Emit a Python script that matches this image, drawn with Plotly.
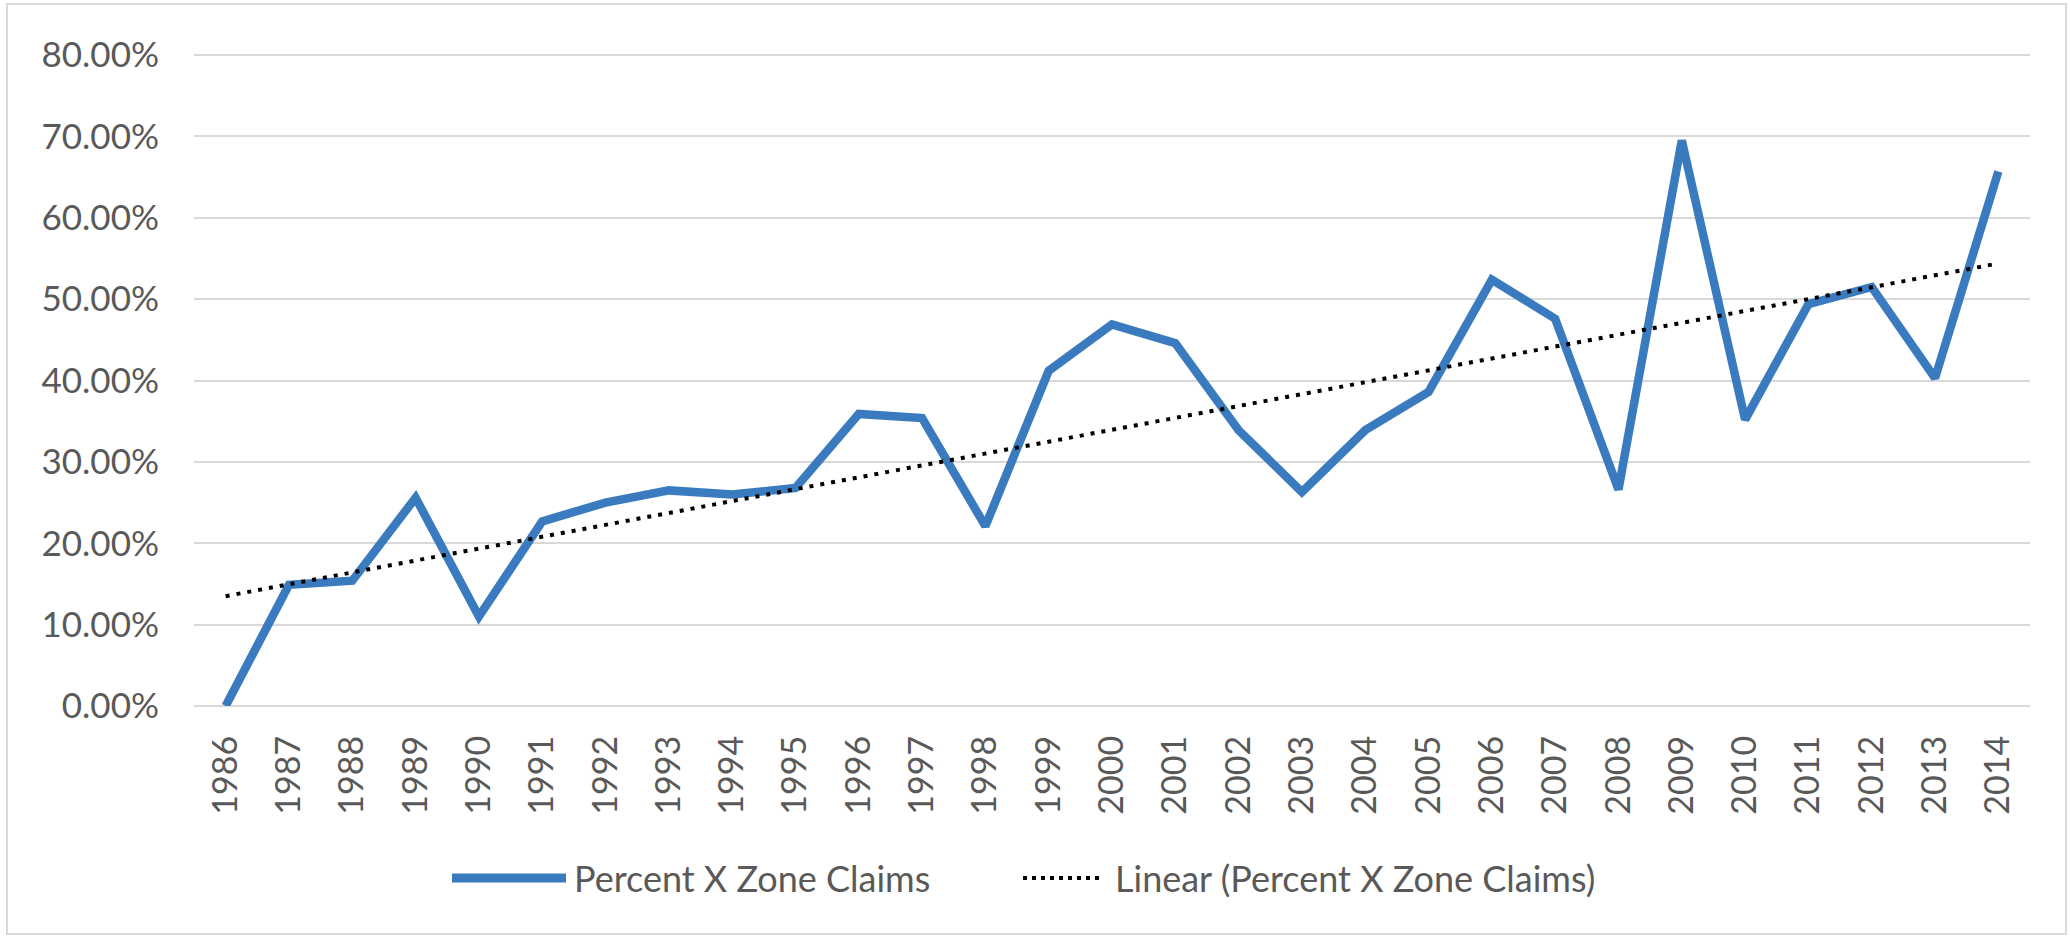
"""
Percent X Zone claims by year, with a linear trend line
"""
import plotly.graph_objects as go

years = [str(y) for y in range(1986, 2015)]
pct_x_zone = [
    0.000, 0.149, 0.154, 0.256, 0.110, 0.227, 0.250, 0.265, 0.260, 0.268,
    0.359, 0.354, 0.221, 0.412, 0.469, 0.446, 0.339, 0.263, 0.339, 0.386,
    0.524, 0.476, 0.266, 0.695, 0.352, 0.494, 0.515, 0.403, 0.657,
]
# trend line end values
trend_years = [years[0], years[-1]]
trend_values = [0.135, 0.544]

y_ticks = [0.0, 0.1, 0.2, 0.3, 0.4, 0.5, 0.6, 0.7, 0.8]

W, H = 2070, 938
# y range runs a touch past 80% so the top gridline is drawn
ML, MR, MT, MB = 194, 40, 47, 232
PW, PH = W - ML - MR, H - MT - MB

BLUE = "#3A7BBF"
GREY_TXT = "#595959"
GRID = "#D9D9D9"
FONT = "Lato, 'Open Sans', sans-serif"


def px_x(x):
    """pixel x -> paper x"""
    return (x - ML) / PW


def px_y(y):
    """pixel y (from top) -> paper y"""
    return (H - MB - y) / PH


fig = go.Figure()

fig.add_trace(
    go.Scatter(
        x=years,
        y=pct_x_zone,
        mode="lines",
        name="Percent X Zone Claims",
        line={"color": BLUE, "width": 8.5},
    )
)
fig.add_trace(
    go.Scatter(
        x=trend_years,
        y=trend_values,
        mode="lines",
        name="Linear (Percent X Zone Claims)",
        line={"color": "black", "width": 4, "dash": "4px,7px"},
    )
)

# chart border
fig.add_shape(
    type="rect",
    xref="paper",
    yref="paper",
    x0=px_x(7),
    x1=px_x(2066),
    y0=px_y(934),
    y1=px_y(4),
    line={"color": GRID, "width": 2},
    layer="below",
)

# hand-made legend
legend_y = px_y(878)
fig.add_shape(
    type="line",
    xref="paper",
    yref="paper",
    x0=px_x(452),
    x1=px_x(566),
    y0=legend_y,
    y1=legend_y,
    line={"color": BLUE, "width": 9},
)
fig.add_shape(
    type="line",
    xref="paper",
    yref="paper",
    x0=px_x(1023),
    x1=px_x(1102),
    y0=legend_y,
    y1=legend_y,
    line={"color": "black", "width": 4, "dash": "4px,5px"},
)
for text, x in [
    ("Percent X Zone Claims", 572),
    ("Linear (Percent X Zone Claims)", 1113),
]:
    fig.add_annotation(
        text=text,
        xref="paper",
        yref="paper",
        x=px_x(x),
        y=legend_y,
        xanchor="left",
        yanchor="middle",
        showarrow=False,
        font={"family": FONT, "size": 36, "color": GREY_TXT},
    )

fig.update_layout(
    width=W,
    height=H,
    margin={"l": ML, "r": MR, "t": MT, "b": MB},
    paper_bgcolor="white",
    plot_bgcolor="white",
    showlegend=False,
    font={"family": FONT, "color": GREY_TXT},
)
fig.update_xaxes(
    type="category",
    range=[-0.5, len(years) - 0.5],
    tickangle=-90,
    tickfont={"size": 34, "color": GREY_TXT},
    ticklabelstandoff=22,
    showgrid=False,
    showline=False,
    zeroline=False,
)
fig.update_yaxes(
    range=[0, 0.81],
    tickvals=y_ticks,
    tickformat=".2%",
    tickfont={"size": 35, "color": GREY_TXT},
    ticklabelstandoff=34,
    gridcolor=GRID,
    gridwidth=2,
    zeroline=True,
    zerolinecolor=GRID,
    zerolinewidth=2,
    showline=False,
)

# page has a default 8px body margin; drop it so the chart sits at 0,0
fig.write_html(
    "out.html",
    config={"displayModeBar": False},
    post_script="document.body.style.margin = '0';",
)
